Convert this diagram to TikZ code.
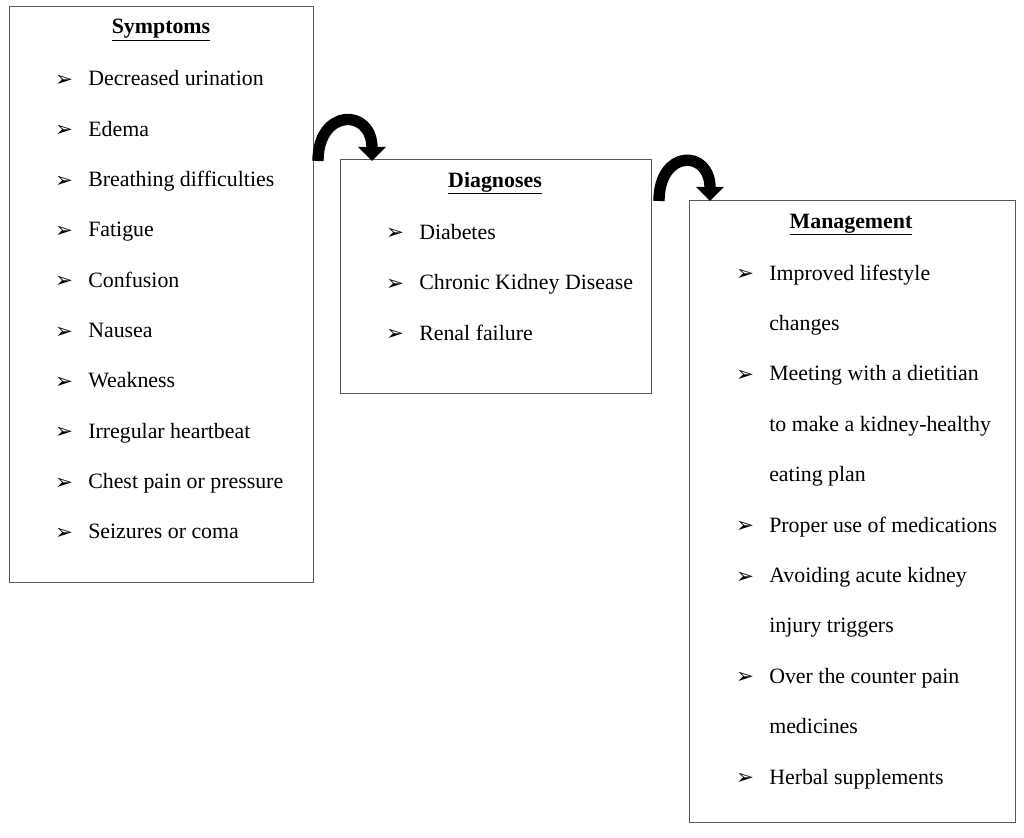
\documentclass[tikz,border=0pt]{standalone}
\usepackage{fontspec}
\setmainfont{Liberation Serif}
\newfontfamily\dejavu{DejaVu Sans}
\usetikzlibrary{arrows.meta,positioning}
\tikzset{box/.style={draw=black!65,line width=0.75pt,inner sep=0pt},
         head/.style={font=\fontsize{16.4}{19}\selectfont\bfseries,anchor=base,inner sep=0pt},
         item/.style={font=\fontsize{16.4}{19}\selectfont,anchor=base west,inner sep=0pt},
         pointer/.style={font=\dejavu\fontsize{16}{19}\selectfont,inner sep=0pt},
         flow/.style={line width=8.5pt,-{Triangle[length=10.5pt,width=20pt]}}}

\begin{document}
\begin{tikzpicture}[x=0.75pt,y=-0.75pt]
            \useasboundingbox (0,0) rectangle (1024,838);

            % the three boxes
            \node (symptoms)   [box,minimum width=228pt,minimum height=431.25pt] at (161,294.5) {};
            \node (diagnoses)  [box,minimum width=233.25pt,minimum height=174.75pt] at (495.5,276.5) {};
            \node (management) [box,minimum width=244.5pt,minimum height=466.5pt] at (852,511) {};

            \node (symptomsT)   [head] at (161,34)  {\underline{Symptoms}};
            \node (diagnosesT)  [head] at (495,187) {\underline{Diagnoses}};
            \node (managementT) [head] at (851,228) {\underline{Management}};

            \foreach \txt [count=\i] in {Decreased urination,Edema,Breathing difficulties,Fatigue,Confusion,Nausea,Weakness,Irregular heartbeat,Chest pain or pressure,Seizures or coma}
            {
                \node (sb\i) [pointer] at (64,30.7+50.3*\i) {➢};
                \node (si\i) [item] at (88,35.7+50.3*\i) {\txt};
            }

            \foreach \txt [count=\i] in {Diabetes,Chronic Kidney Disease,Renal failure}
            {
                \node (db\i) [pointer] at (395,183.5+50.5*\i) {➢};
                \node (di\i) [item] at (419,188.5+50.5*\i) {\txt};
            }

            \foreach \k/\b/\txt in {0/1/Improved lifestyle,1/0/changes,2/1/Meeting with a dietitian,3/0/to make a kidney-healthy,4/0/eating plan,5/1/Proper use of medications,6/1/Avoiding acute kidney,7/0/injury triggers,8/1/Over the counter pain,9/0/medicines,10/1/Herbal supplements}
            {
                \ifnum\b=1 \node (mb\k) [pointer] at (745,275+50.4*\k) {➢}; \fi
                \node (mi\k) [item] at (769,280+50.4*\k) {\txt};
            }

            % curved arrows between the boxes
            \coordinate (from1) at (318,161);
            \coordinate (to1)   at (372,161);
            \coordinate (from2) at (659,201);
            \coordinate (to2)   at (710,201);
            \draw[flow] (from1) .. controls (318,108) and (372,108) .. (to1);
            \draw[flow] (from2) .. controls (659,149) and (710,149) .. (to2);
        \end{tikzpicture}
\end{document}
